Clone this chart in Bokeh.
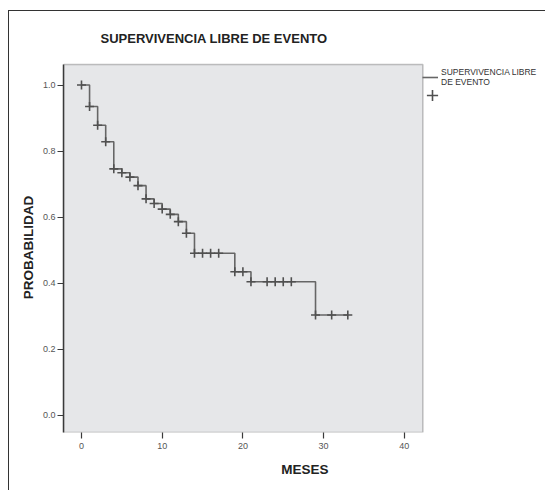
import numpy as np
from bokeh.plotting import figure
from bokeh.models import (Range1d, FixedTicker, Legend, LegendItem, ColumnDataSource,
                          CustomJSTickFormatter, BoxAnnotation)
from bokeh.embed import file_html
from bokeh.resources import INLINE

# Kaplan-Meier steps
event_times = [0, 1, 2, 3, 4, 5, 6, 7, 8, 9, 10, 11, 12, 13, 14, 19, 21, 29, 33]
survival = [1.0, 0.935, 0.878, 0.828, 0.746, 0.734, 0.721, 0.695, 0.655, 0.641,
            0.624, 0.608, 0.586, 0.551, 0.49, 0.434, 0.404, 0.303, 0.303]
censor_times = [0, 1, 2, 3, 4, 5, 6, 7, 8, 9, 10, 11, 12, 13, 14, 15, 16, 17,
                19, 20, 21, 23, 24, 25, 26, 29, 31, 33]
x_ticks = [0, 10, 20, 30, 40]
y_ticks = [0.0, 0.2, 0.4, 0.6, 0.8, 1.0]

title_text = "SUPERVIVENCIA LIBRE DE EVENTO"
legend_label = "SUPERVIVENCIA LIBRE\nDE EVENTO"

# axis extents of the plotting area
x_lo, x_hi = -2.23, 42.3
y_lo, y_hi = -0.053, 1.062

idx = np.searchsorted(event_times, censor_times, side="right") - 1
censor_surv = [survival[i] for i in idx]

p = figure(width=537, height=480, output_backend="svg", toolbar_location=None,
           x_range=Range1d(x_lo, x_lo + 483 / 8.07), y_range=Range1d(y_lo, y_lo + 370 / 330),
           min_border_left=54, min_border_right=0, min_border_top=51, min_border_bottom=59,
           background_fill_color="white", border_fill_color="white",
           styles={"margin-left": "8px", "margin-top": "10px",
                   "border-left": "1px solid #333", "border-top": "1px solid #333"})

p.grid.visible = False
p.outline_line_color = None

# grey plotting area with its frame
area = BoxAnnotation(right=x_hi, top=y_hi, fill_color="#e6e7e9", fill_alpha=1.0,
                     line_color="#3a3a3a", line_width=1.5, level="underlay")
p.add_layout(area)

# title
p.title.text = title_text
p.title.align = "left"
p.title.offset = 37
p.title.standoff = 33
p.title.text_font = "Liberation Sans"
p.title.text_font_size = "13px"
p.title.text_font_style = "bold"
p.title.text_color = "#222222"

step_r = p.step(event_times, survival, mode="after", line_color="#666666", line_width=1.6)
src = ColumnDataSource(dict(x=censor_times, y=censor_surv))
cens_r = p.scatter("x", "y", source=src, marker="cross", size=9, line_color="#505050", line_width=1.6)

for ax in (p.xaxis[0], p.yaxis[0]):
    ax.axis_line_color = "#3a3a3a"
    ax.axis_line_width = 1.5
    ax.major_tick_line_color = "#3a3a3a"
    ax.major_tick_line_width = 1.2
    ax.major_tick_out = 6
    ax.major_tick_in = 0
    ax.minor_tick_line_color = None
    ax.major_label_text_font = "Liberation Sans"
    ax.major_label_text_font_size = "9px"
    ax.major_label_text_color = "#555555"
    ax.axis_label_text_font = "Liberation Sans"
    ax.axis_label_text_font_size = "13.5px"
    ax.axis_label_text_font_style = "bold"
    ax.axis_label_text_color = "#222222"

p.xaxis.axis_line_color = None
p.yaxis.bounds = (y_lo, y_hi)
p.xaxis.ticker = FixedTicker(ticks=x_ticks)
p.yaxis.ticker = FixedTicker(ticks=y_ticks)
p.yaxis.formatter = CustomJSTickFormatter(code="return tick.toFixed(1);")
p.xaxis.axis_label = "MESES"
p.yaxis.axis_label = "PROBABILIDAD"
p.xaxis.major_label_standoff = 4
p.xaxis.axis_label_standoff = 10
p.yaxis.major_label_standoff = 2
p.yaxis.axis_label_standoff = 4

legend_style = dict(margin=0, padding=0, spacing=0, label_standoff=3,
                    label_text_font="Liberation Sans", label_text_font_size="8.5px",
                    label_text_line_height=1.2, label_text_color="#333333",
                    border_line_alpha=0, background_fill_alpha=0)
legend = Legend(items=[LegendItem(label=legend_label, renderers=[step_r])],
                location=(359, 345), glyph_width=16, glyph_height=12, **legend_style)
p.add_layout(legend, "center")
legend2 = Legend(items=[LegendItem(label=" ", renderers=[cens_r])],
                 location=(355, 323), glyph_width=28, glyph_height=28, **legend_style)
p.add_layout(legend2, "center")

open("out.html", "w").write(file_html(p, INLINE))
